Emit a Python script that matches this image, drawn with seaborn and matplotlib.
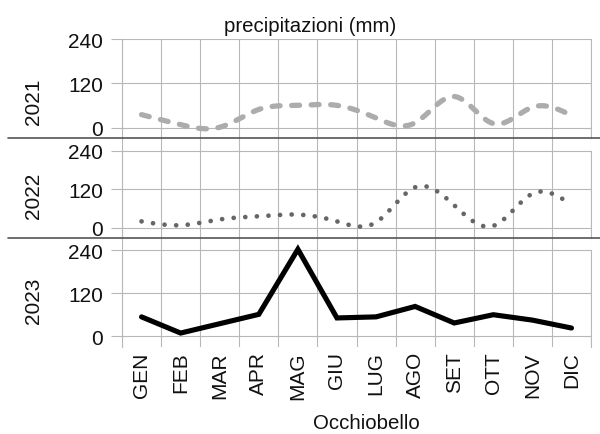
import numpy as np
import pandas as pd
import matplotlib
matplotlib.use("Agg")
import matplotlib.pyplot as plt
import seaborn as sns
from matplotlib.lines import Line2D

months = ["GEN", "FEB", "MAR", "APR", "MAG", "GIU", "LUG", "AGO", "SET", "OTT", "NOV", "DIC"]
years = ["2021", "2022", "2023"]
rain_2021 = [36, 9, 2, 50, 61, 61, 27, 14, 85, 12, 56, 34]
rain_2022 = [20, 8, 26, 36, 41, 20, 17, 126, 70, 6, 106, 72]
rain_2023 = [54, 9, 35, 61, 242, 51, 54, 83, 37, 60, 45, 23]
yticks = [0, 120, 240]
title = "precipitazioni (mm)"
xlabel = "Occhiobello"

sns.set_theme(style="white")
plt.rcParams["font.family"] = ["Liberation Sans", "DejaVu Sans"]

GRID = "#b8b8b8"
TXT = "#111111"
FS = 15


def natural_spline(x, y, xs):
    x = np.asarray(x, float)
    y = np.asarray(y, float)
    n = len(x)
    h = np.diff(x)
    A = np.zeros((n, n))
    b = np.zeros(n)
    A[0, 0] = 1
    A[-1, -1] = 1
    for i in range(1, n - 1):
        A[i, i - 1] = h[i - 1]
        A[i, i] = 2 * (h[i - 1] + h[i])
        A[i, i + 1] = h[i]
        b[i] = 3 * ((y[i + 1] - y[i]) / h[i] - (y[i] - y[i - 1]) / h[i - 1])
    c = np.linalg.solve(A, b)
    out = np.empty_like(xs)
    for k, xv in enumerate(xs):
        i = min(max(np.searchsorted(x, xv) - 1, 0), n - 2)
        dx = xv - x[i]
        bb = (y[i + 1] - y[i]) / h[i] - h[i] * (2 * c[i] + c[i + 1]) / 3
        d = (c[i + 1] - c[i]) / (3 * h[i])
        out[k] = y[i] + bb * dx + c[i] * dx ** 2 + d * dx ** 3
    return out


W, H = 600, 435
fig = plt.figure(figsize=(W / 100, H / 100), dpi=100)

left = 122 / W
width = (591 - 122) / W
# (top_px, bottom_px, ylim_bottom, ylim_top)
panels = [
    (40.0, 139.3, -27.8, 240.0),
    (139.3, 239.0, -31.7, 278.2),
    (239.0, 348.0, -29.8, 273.4),
]
axes = []
for top, bot, yb, yt in panels:
    ax = fig.add_axes([left, (H - bot) / H, width, (bot - top) / H])
    ax.set_ylim(yb, yt)
    ax.set_xlim(-0.5, 11.5)
    ax.patch.set_alpha(0)
    axes.append(ax)

xs = np.linspace(0, 11, 400)
x_idx = np.arange(12)

df1 = pd.DataFrame({"x": xs, "y": natural_spline(x_idx, rain_2021, xs)})
df2 = pd.DataFrame({"x": xs, "y": natural_spline(x_idx, rain_2022, xs)})
df3 = pd.DataFrame({"x": x_idx, "y": rain_2023})

l1 = sns.lineplot(data=df1, x="x", y="y", ax=axes[0], color="#acacac", lw=3.8,
                  estimator=None, sort=False)
l1.lines[0].set_linestyle((0, (1.5, 2.2)))
l1.lines[0].set_dash_capstyle("round")

l2 = sns.lineplot(data=df2, x="x", y="y", ax=axes[1], color="#666666", lw=3.4,
                  estimator=None, sort=False)
l2.lines[0].set_linestyle((0, (0.01, 2.45)))
l2.lines[0].set_dash_capstyle("round")

l3 = sns.lineplot(data=df3, x="x", y="y", ax=axes[2], color="black", lw=3.7,
                  estimator=None, sort=False)
l3.lines[0].set_solid_joinstyle("miter")

for i, ax in enumerate(axes):
    yb, yt = ax.get_ylim()
    ax.set_yticks(yticks)
    ax.set_yticklabels([str(t) for t in yticks], fontsize=FS, color=TXT)
    ax.tick_params(axis="y", direction="out", length=8, width=0.8, color=GRID, pad=5.5, left=True)
    ax.set_xticks(np.arange(-0.5, 12, 1.0), minor=True)
    ax.grid(True, which="minor", axis="x", color=GRID, lw=0.8)
    ax.grid(True, which="major", axis="y", color=GRID, lw=0.8)
    ax.grid(False, which="major", axis="x")
    for s in ["top", "bottom"]:
        ax.spines[s].set_visible(False)
    for s in ["left", "right"]:
        ax.spines[s].set_color(GRID)
        ax.spines[s].set_linewidth(0.8)
        ax.spines[s].set_bounds(yb, 240)
    ax.set_xlabel("")
    ax.set_ylabel("")
    if i < 2:
        ax.set_xticks([])
        ax.set_xticks(np.arange(-0.5, 12, 1.0), minor=True)
        ax.tick_params(axis="x", which="both", labelbottom=False, length=0)
    else:
        ax.set_xticks(x_idx)
        ax.set_xticklabels(months, rotation=90, fontsize=FS, color=TXT)
        ax.tick_params(axis="x", which="both", length=0, pad=3)

# separators between panels
for ypx in [139.3, 239.0]:
    fig.add_artist(Line2D([8 / W, 1.0], [(H - ypx) / H] * 2, transform=fig.transFigure,
                          color="#555555", lw=1.2))

# year labels
for ypx, yr in zip([102, 195.5, 301], years):
    fig.text(34 / W, (H - ypx) / H, yr, rotation=90, ha="center", va="center",
             fontsize=FS, color=TXT)

fig.text(310 / W, (H - 31.7) / H, title, ha="center", va="baseline", fontsize=14.7,
         color=TXT)
fig.text(366 / W, (H - 429.5) / H, xlabel, ha="center", va="baseline", fontsize=14.7,
         color=TXT)

fig.savefig("out.png", dpi=100)
